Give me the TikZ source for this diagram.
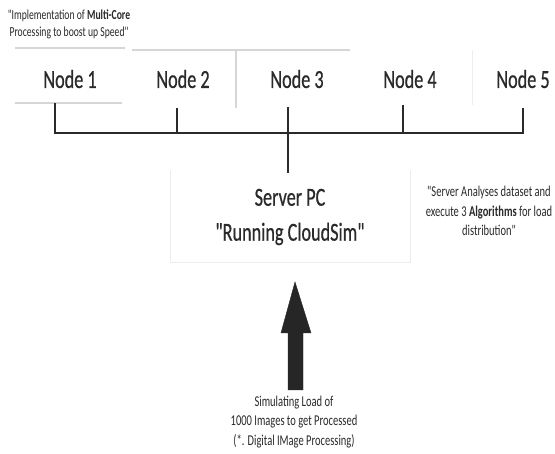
\documentclass[tikz,border=0pt]{standalone}
\usepackage{fontspec}
\newfontfamily\nodefont[FakeStretch=0.7]{Carlito}
\newfontfamily\labelfont[FakeStretch=0.7,FakeBold=0.6]{Carlito}
\definecolor{ink}{HTML}{2A2A2A}
\definecolor{faint}{HTML}{D6D6D6}
\definecolor{faintest}{HTML}{EDEDED}
\begin{document}
\begin{tikzpicture}[x=1pt,y=-1pt,
  every node/.style={text=ink, inner sep=0pt},
  biglabel/.style={font=\labelfont\fontsize{26}{35}\selectfont, align=center},
  smallnote/.style={font=\nodefont\fontsize{15}{19.5}\selectfont, align=center},
  topnote/.style={font=\nodefont\fontsize{13.8}{17}\selectfont, align=center},
  bus/.style={draw=ink, line width=1.8pt},
  ghost/.style={draw=faint, line width=1.2pt},
  ghostbox/.style={draw=faintest, line width=1pt},
  bigarrow/.style={fill=black!85, draw=black!85}
]
\useasboundingbox (0,0) rectangle (555,454);
\fill[white] (0,0) rectangle (555,454);

% faint leftover box edges
\draw[ghost] (15,48) -- (125,48);
\draw[ghost] (132,50) -- (350,50);
\draw[ghost] (236,50) -- (236,108);
\draw[ghost] (15,103) -- (122,103);
\draw[ghostbox] (472,50) -- (472,105);
\draw[ghostbox] (170,170) -- (170,263) -- (410,263) -- (410,170);

% notes
\node[topnote] (noteA) at (69,24) {"Implementation of \textbf{Multi-Core}\\Processing to boost up Speed"};

% node labels
\node[biglabel] (n1) at (70,79) {Node 1};
\node[biglabel] (n2) at (183,79) {Node 2};
\node[biglabel] (n3) at (297,79) {Node 3};
\node[biglabel] (n4) at (410,79) {Node 4};
\node[biglabel] (n5) at (523,79) {Node 5};

% tap points
\coordinate (t1) at (55,103);
\coordinate (t2) at (177,108);
\coordinate (t3) at (288,107);
\coordinate (t4) at (403,105);
\coordinate (t5) at (523,108);
\coordinate (b1) at (55,133);
\coordinate (b5) at (523,133);
\coordinate (s3) at (288,173);

% bus
\draw[bus] (t1) -- (b1) -- (b5) -- (t5);
\draw[bus] (t2) -- (t2 |- b1);
\draw[bus] (t4) -- (t4 |- b1);
\draw[bus] (t3) -- (s3);

% server
\node[biglabel] (server) at (290,217) {Server PC\\"Running CloudSim"};

\node[smallnote] (noteB) at (489,211) {"Server Analyses dataset and\\execute 3 \textbf{Algorithms} for load\\distribution"};

% big arrow
\coordinate (atip) at (295,282);
\fill[bigarrow] (atip) -- (311,333) -- (303,333) -- (303,390) -- (288,390) -- (288,333) -- (281,333) -- cycle;

\node[smallnote] (noteC) at (294,422) {Simulating Load of\\1000 Images to get Processed\\(*. Digital IMage Processing)};
\end{tikzpicture}
\end{document}
